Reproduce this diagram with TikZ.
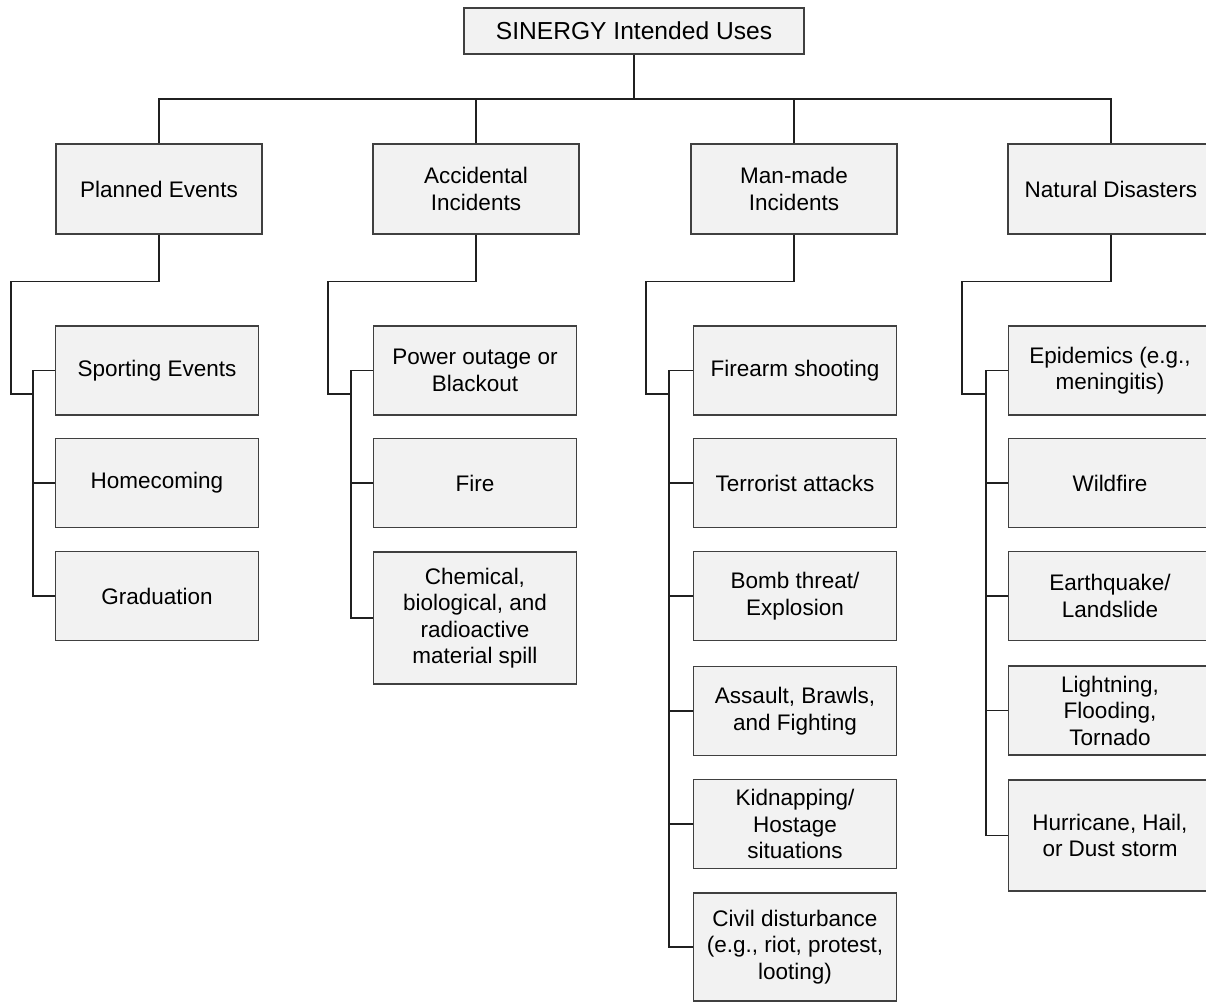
\documentclass[tikz,border=0pt]{standalone}
\usepackage{fontspec}
\setmainfont{Liberation Sans}
\definecolor{boxfill}{HTML}{F2F2F2}
\definecolor{boxline}{HTML}{404040}
\definecolor{linecol}{HTML}{202020}
\begin{document}
\begin{tikzpicture}[x=1pt,y=-1pt,
  box/.style={draw=boxline, fill=boxfill, line width=1.2pt, rectangle, inner sep=0pt, align=center, font=\fontsize{22.5}{26.5}\selectfont},
  cat/.style={box, minimum width=206pt, minimum height=90pt},
  kid/.style={box, minimum width=203pt, minimum height=89pt},
  link/.style={draw=linecol, line width=1.1pt}]
\useasboundingbox[fill=white] (0,0) rectangle (1206,1002);

% root
\node[box, minimum width=340pt, minimum height=46pt, font=\fontsize{24.6}{28}\selectfont] (root) at (634,31) {SINERGY Intended Uses};

% categories
\node[cat] (P) at (159,189) {Planned Events};
\node[cat] (A) at (476,189) {Accidental\\Incidents};
\node[cat] (M) at (794,189) {Man-made\\Incidents};
\node[cat] (N) at (1111,189) {Natural Disasters};

% planned
\node[kid] (P1) at (157,370.5) {Sporting Events};
\node[kid] (P2) at (157,483) {Homecoming};
\node[kid] (P3) at (157,596) {Graduation};

% accidental
\node[kid] (A1) at (475,370.5) {Power outage or\\Blackout};
\node[kid] (A2) at (475,483) {Fire};
\node[kid, minimum height=132pt] (A3) at (475,618) {Chemical,\\biological, and\\radioactive\\material spill};

% man-made
\node[kid] (M1) at (795,370.5) {Firearm shooting};
\node[kid] (M2) at (795,483) {Terrorist attacks};
\node[kid] (M3) at (795,596) {Bomb threat/\\Explosion};
\node[kid] (M4) at (795,711) {Assault, Brawls,\\and Fighting};
\node[kid] (M5) at (795,824) {Kidnapping/\\Hostage\\situations};
\node[kid, minimum height=108pt] (M6) at (795,947) {Civil disturbance\\(e.g., riot, protest,\\looting)};

% natural
\node[kid] (N1) at (1110,370.5) {Epidemics (e.g.,\\meningitis)};
\node[kid] (N2) at (1110,483) {Wildfire};
\node[kid] (N3) at (1110,596) {Earthquake/\\Landslide};
\node[kid] (N4) at (1110,710.5) {Lightning,\\Flooding,\\Tornado};
\node[kid, minimum height=111pt] (N5) at (1110,835.5) {Hurricane, Hail,\\or Dust storm};

% top bus
\coordinate (bus) at (0,99);
\draw[link] (root.south) -- (root.south |- bus);
\draw[link] (P.north) -- (P.north |- bus) -| (N.north);
\draw[link] (A.north) -- (A.north |- bus);
\draw[link] (M.north) -- (M.north |- bus);

% elbow coordinates
\coordinate (Pk) at (11,394);  \coordinate (Pj) at (33,394);
\coordinate (Ak) at (328,394); \coordinate (Aj) at (351,394);
\coordinate (Mk) at (646,394); \coordinate (Mj) at (669,394);
\coordinate (Nk) at (962,394); \coordinate (Nj) at (986,394);

% category to child bus
\draw[link] (P.south) -- ++(0,47) -| (Pk) -- (Pj);
\draw[link] (A.south) -- ++(0,47) -| (Ak) -- (Aj);
\draw[link] (M.south) -- ++(0,47) -| (Mk) -- (Mj);
\draw[link] (N.south) -- ++(0,47) -| (Nk) -- (Nj);

% planned children
\draw[link] (P1.west) -- (P1.west -| Pj) -- (P3.west -| Pj) -- (P3.west);
\draw[link] (P2.west) -- (P2.west -| Pj);

% accidental children
\draw[link] (A1.west) -- (A1.west -| Aj) -- (A3.west -| Aj) -- (A3.west);
\draw[link] (A2.west) -- (A2.west -| Aj);

% man-made children
\draw[link] (M1.west) -- (M1.west -| Mj) -- (M6.west -| Mj) -- (M6.west);
\foreach \k in {M2,M3,M4,M5} \draw[link] (\k.west) -- (\k.west -| Mj);

% natural children
\draw[link] (N1.west) -- (N1.west -| Nj) -- (N5.west -| Nj) -- (N5.west);
\foreach \k in {N2,N3,N4} \draw[link] (\k.west) -- (\k.west -| Nj);
\end{tikzpicture}
\end{document}
